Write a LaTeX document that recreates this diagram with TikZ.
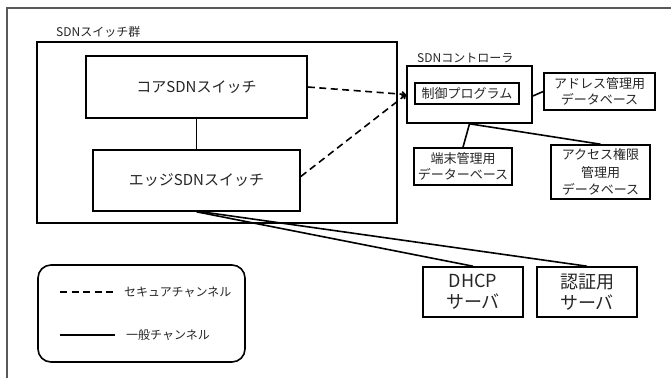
\documentclass[tikz,border=0pt]{standalone}
\usepackage{fontspec}
\setmainfont{Noto Sans CJK JP}
\usetikzlibrary{arrows.meta}
\begin{document}
\begin{tikzpicture}[x=1pt,y=-1pt,
  every node/.style={text=black!85},
  box/.style={draw=black,line width=1.6pt,inner sep=0pt,align=center,fill=white},
  lbl/.style={inner sep=0pt,anchor=west,font=\fontsize{12}{14}\selectfont},
  big/.style={font=\fontsize{15}{18}\selectfont},
  mid/.style={font=\fontsize{13}{16}\selectfont},
  srv/.style={font=\fontsize{18}{21}\selectfont},
  conn/.style={line width=1.6pt},
  sec/.style={line width=1.6pt,dash pattern=on 7pt off 4.5pt},
]
\useasboundingbox (0,0) rectangle (671,378);
\fill[white] (0,0) rectangle (671,378);
% outer frame
\coordinate (fa) at (7,378);
\coordinate (fb) at (7,8);
\coordinate (fc) at (671,8);
\draw[black!65,line width=1.1pt] (fa) -- (fb) -- (fc);

% switch group
\node[box,fill=none,minimum width=360pt,minimum height=181pt] (grp) at (217,132.5) {};
\node[lbl] (grplbl) at (56,32) {SDNスイッチ群};
\node[box,big,minimum width=221pt,minimum height=62pt] (core) at (196.5,87) {コアSDNスイッチ};
\node[box,big,minimum width=207pt,minimum height=61pt] (edge) at (196.5,180.5) {エッジSDNスイッチ};

% controller
\node[box,minimum width=125pt,minimum height=57pt] (ctrl) at (469.5,94.5) {};
\node[lbl] (ctrllbl) at (417,58) {SDNコントローラ};
\node[box,mid,minimum width=104pt,minimum height=21pt] (prog) at (467,93.5) {制御プログラム};
\node[box,mid,minimum width=111pt,minimum height=37pt] (addr) at (599.5,91.5) {アドレス管理用\\データベース};
\node[box,mid,minimum width=98pt,minimum height=37pt] (term) at (463,166.5) {端末管理用\\データーベース};
\node[box,mid,minimum width=99pt,minimum height=54pt,font=\fontsize{13}{17.5}\selectfont] (acc) at (600.5,172) {アクセス権限\\管理用\\データベース};

% servers
\node[box,srv,minimum width=100pt,minimum height=50pt] (dhcp) at (473,292) {DHCP\\サーバ};
\node[box,srv,minimum width=100pt,minimum height=50pt] (auth) at (587,292) {認証用\\サーバ};

% connectors
\draw[conn] (core.south) -- (edge.north);
\draw[sec,-{Straight Barb[length=3pt,width=5pt]}] (core.east) -- (ctrl.west);
\draw[sec,-{Straight Barb[length=3pt,width=5pt]}] ([yshift=4pt]edge.east) -- (ctrl.west);
\draw[conn] ([yshift=-1.5pt]ctrl.east) -- (addr.west);
\draw[conn] (ctrl.south) -- (term.north);
\draw[conn] (ctrl.south) -- (acc.north);
\draw[conn] (edge.south) -- (dhcp.north);
\draw[conn] ([xshift=5pt]edge.south) -- (auth.north);

% legend
\node[draw,line width=1.6pt,rounded corners=13pt,minimum width=207pt,minimum height=97pt] (leg) at (141.5,313.5) {};
\coordinate (d1) at (60,292);
\coordinate (d2) at (115,292);
\coordinate (s1) at (60,335);
\coordinate (s2) at (115,335);
\draw[sec] (d1) -- (d2);
\draw[conn] (s1) -- (s2);
\node[lbl] (t1) at (124,292) {セキュアチャンネル};
\node[lbl] (t2) at (126,335) {一般チャンネル};
\end{tikzpicture}
\end{document}
